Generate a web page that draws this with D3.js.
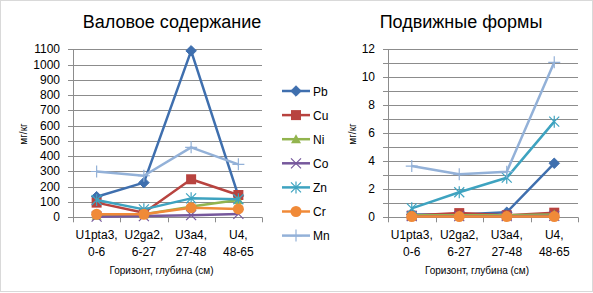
<!DOCTYPE html>
<html>
<head>
<meta charset="utf-8">
<script src="https://cdn.jsdelivr.net/npm/d3@7"></script>
<style>
  body { margin: 0; background: #fff; }
  svg { display: block; font-family: "Liberation Sans", Arial, sans-serif; }
</style>
</head>
<body>
<div id="chart"></div>
<script>
// categories (horizon, depth)
var categories = [["U1pta3,", "0-6"], ["U2ga2,", "6-27"], ["U3a4,", "27-48"], ["U4,", "48-65"]]
var seriesNames = ["Pb", "Cu", "Ni", "Co", "Zn", "Cr", "Mn"]

// total content, mg/kg
var totalPb = [135, 227, 1090, 140]
var totalCu = [96, 30, 249, 146]
var totalNi = [10, 20, 70, 113]
var totalCo = [4, 8, 14, 22]
var totalZn = [113, 52, 124, 118]
var totalCr = [20, 20, 63, 55]
var totalMn = [300, 272, 458, 347]

// mobile forms, mg/kg
var mobilePb = [0.2, 0.2, 0.36, 3.86]
var mobileCu = [0.12, 0.3, 0.15, 0.33]
var mobileNi = [0.15, 0.15, 0.15, 0.2]
var mobileCo = [0.08, 0.08, 0.08, 0.1]
var mobileZn = [0.64, 1.79, 2.83, 6.83]
var mobileCr = [0.05, 0.05, 0.05, 0.05]
var mobileMn = [3.66, 3.07, 3.26, 11.07]

var leftTicks = d3.range(0, 1101, 100)
var rightTicks = d3.range(0, 13, 2)

var colors = {Pb: "#3f6fae", Cu: "#b8433f", Ni: "#92b44e", Co: "#76589c", Zn: "#3ea3c0", Cr: "#f08a38", Mn: "#93b1d8"}
var symbols = {Pb: "diamond", Cu: "square", Ni: "triangle", Co: "x", Zn: "asterisk", Cr: "circle", Mn: "plus"}

var svg = d3.select("#chart").append("svg")
    .attr("width", 593)
    .attr("height", 293)

svg.append("rect")
    .attr("x", 0.5).attr("y", 0.5)
    .attr("width", 592).attr("height", 291)
    .attr("fill", "#fff")
    .attr("stroke", "#d9d9d9")

function drawMarker(g, name, color, size) {
    var s = symbols[name]
    if (s == "diamond") {
        g.append("path").attr("d", d3.symbol(d3.symbolDiamond2, 70)()).attr("fill", color).attr("stroke", color)
    } else if (s == "square") {
        g.append("rect").attr("x", -5).attr("y", -5).attr("width", 10).attr("height", 10).attr("fill", color)
    } else if (s == "triangle") {
        g.append("path").attr("d", "M0,-5L5,4L-5,4Z").attr("fill", color)
    } else if (s == "circle") {
        g.append("circle").attr("r", 5.5).attr("fill", color)
    } else if (s == "x") {
        g.append("path").attr("d", "M-5,-5L5,5M-5,5L5,-5").attr("stroke", color).attr("stroke-width", 1.2).attr("fill", "none")
    } else if (s == "asterisk") {
        g.append("path").attr("d", "M-5,-5L5,5M-5,5L5,-5M0,-6L0,6").attr("stroke", color).attr("stroke-width", 1.2).attr("fill", "none")
    } else if (s == "plus") {
        g.append("path").attr("d", "M-6,0L6,0M0,-6L0,6").attr("stroke", color).attr("stroke-width", 1.2).attr("fill", "none")
    }
}

function drawChart(opts) {
    var x = d3.scaleBand().domain(d3.range(categories.length)).range([opts.x0, opts.x1])
    var y = d3.scaleLinear().domain([0, opts.max]).range([217.3, 49.3])
    var g = svg.append("g")

    // gridlines
    g.selectAll(".grid").data(opts.grid).enter().append("line")
        .attr("x1", opts.x0 - 5).attr("x2", opts.x1)
        .attr("y1", function(d){ return Math.round(y(d)) + 0.5 })
        .attr("y2", function(d){ return Math.round(y(d)) + 0.5 })
        .attr("stroke", "#8c8c8c").attr("stroke-width", 1)

    // axes
    g.append("line").attr("x1", opts.x0 + 0.5).attr("x2", opts.x0 + 0.5)
        .attr("y1", y(opts.max)).attr("y2", y(0)).attr("stroke", "#8c8c8c")
    g.selectAll(".xtick").data(d3.range(categories.length + 1)).enter().append("line")
        .attr("x1", function(d){ return Math.round(opts.x0 + d * x.bandwidth()) + 0.5 })
        .attr("x2", function(d){ return Math.round(opts.x0 + d * x.bandwidth()) + 0.5 })
        .attr("y1", y(0)).attr("y2", y(0) + 5).attr("stroke", "#8c8c8c")

    g.selectAll(".ylab").data(opts.ticks).enter().append("text")
        .attr("x", opts.x0 - 13).attr("y", function(d){ return y(d) + 4 })
        .attr("text-anchor", "end").attr("font-size", 12).attr("fill", "#000")
        .text(function(d){ return d })

    var xl = g.selectAll(".xlab").data(categories).enter().append("text")
        .attr("text-anchor", "middle").attr("font-size", 12).attr("fill", "#000")
    xl.append("tspan").attr("x", function(d, i){ return x(i) + x.bandwidth() / 2 }).attr("y", 239)
        .text(function(d){ return d[0] })
    xl.append("tspan").attr("x", function(d, i){ return x(i) + x.bandwidth() / 2 }).attr("y", 256)
        .text(function(d){ return d[1] })

    g.append("text").attr("x", (opts.x0 + opts.x1) / 2 - 6).attr("y", 274)
        .attr("text-anchor", "middle").attr("font-size", 10).text("Горизонт, глубина (см)")

    g.append("text").attr("transform", "translate(" + opts.labelX + ",134) rotate(-90)")
        .attr("text-anchor", "middle").attr("font-size", 10).text("мг/кг")

    g.append("text").attr("x", opts.titleX).attr("y", 28)
        .attr("text-anchor", "middle").attr("font-size", 18).text(opts.title)

    // series
    var line = d3.line()
        .x(function(d, i){ return x(i) + x.bandwidth() / 2 })
        .y(function(d){ return y(d) })
    seriesNames.forEach(function(name, k){
        var vals = opts.data[k]
        g.append("path").datum(vals).attr("d", line)
            .attr("fill", "none").attr("stroke", colors[name]).attr("stroke-width", 2.5)
            .attr("stroke-linejoin", "round")
        vals.forEach(function(v, i){
            var m = g.append("g").attr("transform", "translate(" + (x(i) + x.bandwidth() / 2) + "," + y(v) + ")")
            drawMarker(m, name, colors[name])
        })
    })

    // legend
    if (opts.legendX) {
        seriesNames.forEach(function(name, k){
            var ly = 91 + k * 24.1
            var lg = g.append("g")
            lg.append("line").attr("x1", opts.legendX).attr("x2", opts.legendX + 28)
                .attr("y1", ly).attr("y2", ly).attr("stroke", colors[name]).attr("stroke-width", 2.5)
            var m = lg.append("g").attr("transform", "translate(" + (opts.legendX + 14) + "," + ly + ")")
            drawMarker(m, name, colors[name])
            lg.append("text").attr("x", opts.legendX + 31).attr("y", ly + 4.5)
                .attr("font-size", 12).text(name)
        })
    }
}

drawChart({
    x0: 73, x1: 262, max: 1100, grid: leftTicks, ticks: leftTicks,
    data: [totalPb, totalCu, totalNi, totalCo, totalZn, totalCr, totalMn],
    title: "Валовое содержание", titleX: 172, labelX: 27, legendX: 282
})
drawChart({
    x0: 388, x1: 578, max: 12, grid: d3.range(0, 13, 1), ticks: rightTicks,
    data: [mobilePb, mobileCu, mobileNi, mobileCo, mobileZn, mobileCr, mobileMn],
    title: "Подвижные формы", titleX: 461, labelX: 356
})
</script>
</body>
</html>
